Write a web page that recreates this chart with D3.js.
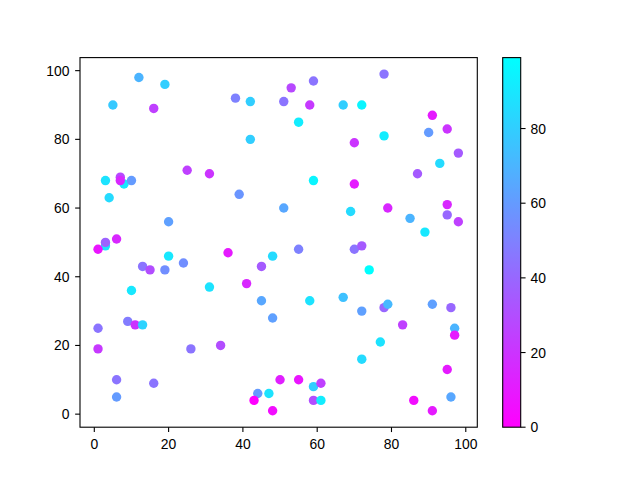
<!DOCTYPE html>
<html>
<head>
<meta charset="utf-8">
<script src="https://cdn.jsdelivr.net/npm/d3@7"></script>
<style>
  html, body { margin: 0; padding: 0; background: #fff; }
  svg { display: block; }
  text { font-family: "Liberation Sans", Arial, sans-serif; font-size: 13.9px; fill: #000; }
</style>
</head>
<body>
<svg id="chart" width="640" height="480"></svg>
<script>
// ---- data ----
const xs = [12,19,5,16,38,42,42,25,31,3,8,7,7,10,4,39,20,3,3,6,1,
  53,59,78,51,58,67,72,55,91,95,90,78,70,98,93,87,59,70,51,69,79,85,89,95,95,98,
  20,13,15,19,24,36,48,45,10,31,41,45,48,1,9,11,13,1,26,34,6,16,6,44,47,43,48,50,
  55,70,72,74,58,67,72,78,79,91,96,83,97,97,77,72,95,55,59,61,59,61,86,91,96];
const ys = [98,96,90,89,92,91,80,71,70,68,67,69,68,68,63,64,56,49,50,51,48,
  95,97,99,91,90,90,90,85,87,83,82,81,79,76,73,70,68,67,60,59,60,57,53,61,58,56,
  46,43,42,42,44,47,46,43,36,37,38,33,28,25,27,26,26,19,19,20,10,9,5,6,6,4,1,10,
  48,48,49,42,33,34,30,31,32,32,31,26,25,23,21,16,13,10,8,9,4,4,4,1,5];
const cs = [70,80,78,25,50,80,80,25,20,88,90,28,15,60,85,58,62,88,38,15,8,
  28,45,45,45,22,80,95,92,10,20,60,92,20,35,85,35,95,10,65,85,15,70,90,15,40,25,
  90,45,30,55,55,10,85,35,90,88,15,65,62,45,48,20,82,22,45,30,45,45,60,60,88,0,5,12,
  50,45,35,99,88,75,62,40,72,62,40,25,70,10,88,85,10,8,80,25,30,92,5,10,65];
const xTicks = [0, 20, 40, 60, 80, 100];
const yTicks = [0, 20, 40, 60, 80, 100];
const cTicks = [0, 20, 40, 60, 80];
const cRange = [0, 99];

// ---- layout ----
const svg = d3.select("#chart");
const L = 80, R = 477.3, T = 57.6, B = 427.2;
const cbL = 502.7, cbR = 520.7;
const tickLen = 4.86, pad = 4.86;

const x = d3.scaleLinear().domain([-3.85, 103.1]).range([L, R]);
const y = d3.scaleLinear().domain([-3.8, 103.8]).range([B, T]);
const cy = d3.scaleLinear().domain(cRange).range([B, T]);
const color = d3.scaleLinear().domain(cRange)
  .range(["#ff00ff", "#00ffff"]).interpolate(d3.interpolateRgb);

const pts = xs.map((d, i) => ({ x: d, y: ys[i], c: cs[i] }));

// points
svg.append("g").selectAll("circle").data(pts).enter().append("circle")
  .attr("cx", d => x(d.x)).attr("cy", d => y(d.y)).attr("r", 4.7)
  .attr("fill", d => color(d.c));

// frame
svg.append("rect").attr("x", L).attr("y", T).attr("width", R - L).attr("height", B - T)
  .attr("fill", "none").attr("stroke", "#000").attr("stroke-width", 1.1);

// x axis
const gx = svg.append("g");
xTicks.forEach(t => {
  gx.append("line").attr("x1", x(t)).attr("x2", x(t)).attr("y1", B).attr("y2", B + tickLen)
    .attr("stroke", "#000").attr("stroke-width", 1.1);
  gx.append("text").attr("x", x(t)).attr("y", B + tickLen + pad + 12)
    .attr("text-anchor", "middle").text(t);
});
// y axis
const gy = svg.append("g");
yTicks.forEach(t => {
  gy.append("line").attr("x1", L - tickLen).attr("x2", L).attr("y1", y(t)).attr("y2", y(t))
    .attr("stroke", "#000").attr("stroke-width", 1.1);
  gy.append("text").attr("x", L - tickLen - pad - 0.8).attr("y", y(t) + 5)
    .attr("text-anchor", "end").text(t);
});

// colorbar
const defs = svg.append("defs");
const grad = defs.append("linearGradient").attr("id", "cbg")
  .attr("x1", 0).attr("y1", 1).attr("x2", 0).attr("y2", 0);
d3.range(0, 11).forEach(i => {
  const v = cRange[0] + (cRange[1] - cRange[0]) * i / 10;
  grad.append("stop").attr("offset", (i * 10) + "%").attr("stop-color", color(v));
});
svg.append("rect").attr("x", cbL).attr("y", T).attr("width", cbR - cbL).attr("height", B - T)
  .attr("fill", "url(#cbg)").attr("stroke", "#000").attr("stroke-width", 1.1);
const gc = svg.append("g");
cTicks.forEach(t => {
  gc.append("line").attr("x1", cbR).attr("x2", cbR + tickLen).attr("y1", cy(t)).attr("y2", cy(t))
    .attr("stroke", "#000").attr("stroke-width", 1.1);
  gc.append("text").attr("x", cbR + tickLen + pad).attr("y", cy(t) + 5)
    .attr("text-anchor", "start").text(t);
});
</script>
</body>
</html>
